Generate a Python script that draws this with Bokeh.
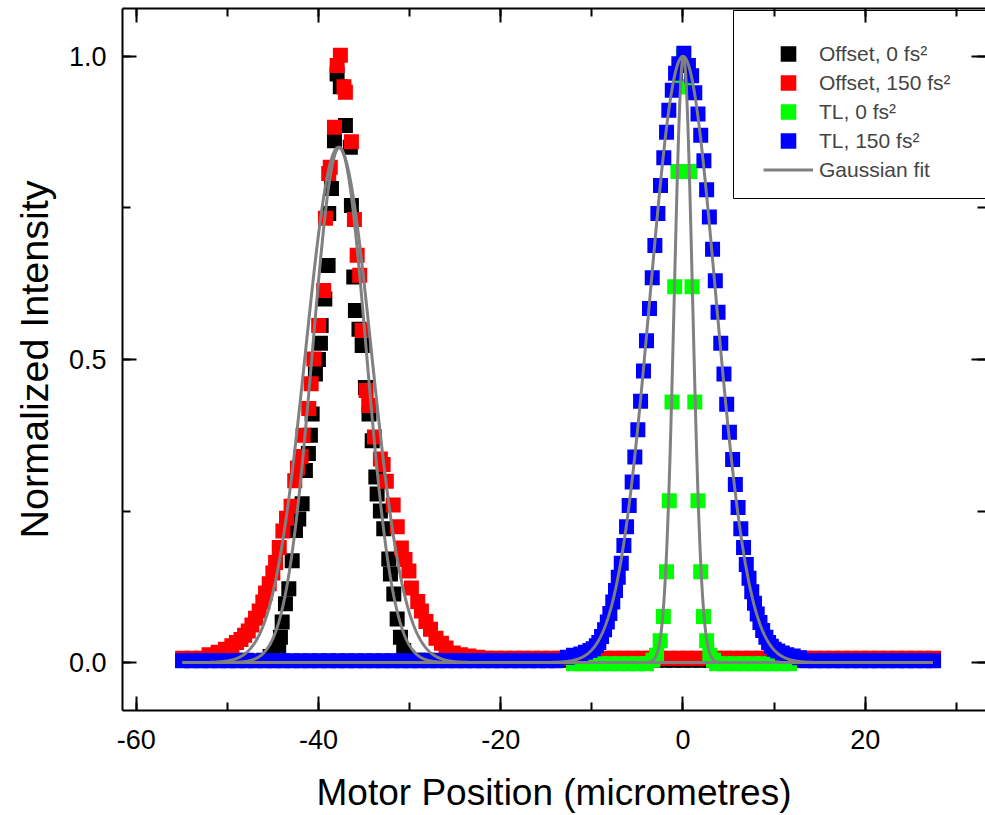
import numpy as np
from bokeh.plotting import figure
from bokeh.models import (Range1d, LinearAxis, SingleIntervalTicker, NumeralTickFormatter,
                          CustomJSTickFormatter, Legend, LegendItem, BoxAnnotation)
from bokeh.embed import file_html
from bokeh.resources import INLINE

# ---- measured scans -------------------------------------------------------
# motor positions (micrometres) where each trace sits flat on its baseline
wing_step = 1.0

# Offset, 0 fs^2
off0_x = [-46.0, -45.3, -44.7, -44.36, -44.17, -43.98, -43.62, -43.25, -42.88, -42.52,
          -42.16, -41.79, -41.43, -41.1, -40.88, -40.69, -40.33, -40.0, -39.78, -39.7,
          -39.3, -38.94, -38.87, -38.57, -38.24, -37.95, -37.6, -37.04, -36.5, -36.38,
          -36.12, -35.94, -35.55, -35.2, -34.84, -34.45, -34.1, -33.7, -33.56, -33.2,
          -32.83, -32.28, -32.1, -31.73, -31.36, -31.0, -30.64, -30.2, -29.6]
off0_y = [0.004, 0.010, 0.016, 0.023, 0.042, 0.067, 0.097, 0.122, 0.168, 0.218,
          0.237, 0.262, 0.317, 0.345, 0.375, 0.41, 0.476, 0.50, 0.527, 0.556,
          0.60, 0.655, 0.741, 0.782, 0.861, 0.971, 0.95, 0.886, 0.85, 0.754,
          0.636, 0.581, 0.55, 0.523, 0.454, 0.41, 0.366, 0.306, 0.278, 0.25,
          0.221, 0.171, 0.146, 0.113, 0.072, 0.042, 0.020, 0.008, 0.004]
off0_wings = [(-54.9, -47.0), (-29.0, 27.5)]
off0_level = 0.004

# Offset, 150 fs^2
off150_x = [-52.0, -51.0, -50.2, -49.5, -49.0, -48.5, -48.1, -47.7, -47.3, -46.9,
            -46.5, -46.1, -45.8, -45.4, -45.0, -44.7, -44.3, -43.9, -43.5, -43.0,
            -42.6, -42.3, -41.9, -41.68, -41.06, -40.8, -40.5, -39.97, -39.42, -39.23,
            -38.87, -38.7, -38.24, -37.95, -37.59, -37.2, -37.04, -36.38, -36.05, -35.75,
            -35.47, -35.2, -34.77, -34.48, -33.85, -33.2, -32.9, -32.55, -31.8, -31.35,
            -30.9, -30.5, -30.07, -29.8, -29.1, -28.7, -28.2, -27.7, -27.1, -26.5,
            -26.0, -25.2, -24.4, -23.5, -22.5]
off150_y = [0.013, 0.017, 0.022, 0.028, 0.033, 0.038, 0.045, 0.052, 0.062, 0.073,
            0.085, 0.100, 0.115, 0.130, 0.148, 0.165, 0.190, 0.217, 0.238, 0.258,
            0.300, 0.321, 0.340, 0.375, 0.419, 0.460, 0.501, 0.556, 0.614, 0.733,
            0.807, 0.817, 0.883, 0.985, 1.002, 0.950, 0.941, 0.859, 0.731, 0.672,
            0.639, 0.548, 0.449, 0.424, 0.372, 0.336, 0.327, 0.299, 0.260, 0.224,
            0.189, 0.170, 0.151, 0.123, 0.101, 0.085, 0.068, 0.055, 0.040, 0.032,
            0.024, 0.016, 0.013, 0.011, 0.009]
off150_wings = [(-54.9, -52.9), (-21.5, 27.5)]
off150_level = 0.007

# TL, 0 fs^2
tl0_x = [-3.3, -2.9, -2.5, -2.15, -1.8, -1.5, -1.2, -0.9, -0.55, -0.25, 0.05,
         0.4, 0.75, 1.0, 1.3, 1.65, 1.95, 2.25, 2.6, 2.95, 3.35]
tl0_y = [0.004, 0.012, 0.036, 0.076, 0.150, 0.267, 0.430, 0.620, 0.810, 0.950, 1.000,
         0.950, 0.810, 0.620, 0.430, 0.267, 0.150, 0.076, 0.036, 0.012, 0.004]
tl0_wings = [(-12.0, -3.7), (3.7, 12.2)]
tl0_level = -0.002

# TL, 150 fs^2
tl150_x = [-12.7, -12.0, -11.2, -10.7, -10.2, -9.85, -9.5, -9.23, -8.93, -8.6,
           -8.3, -8.02, -7.7, -7.4, -7.1, -6.77, -6.48, -6.19, -5.9, -5.57,
           -5.28, -4.95, -4.65, -4.33, -4.0, -3.67, -3.37, -3.08, -2.75, -2.46,
           -2.1, -1.8, -1.55, -1.17, -0.81, -0.45, 0.1, 0.6, 0.95, 1.3,
           1.65, 1.95, 2.3, 2.6, 2.9, 3.25, 3.55, 3.85, 4.15, 4.5,
           4.8, 5.1, 5.45, 5.75, 6.05, 6.35, 6.65, 6.95, 7.25, 7.55,
           7.85, 8.15, 8.45, 8.75, 9.1, 9.4, 9.7, 10.0, 10.4, 10.9,
           11.4, 12.1, 12.8]
tl150_y = [0.009, 0.012, 0.014, 0.017, 0.020, 0.023, 0.028, 0.033, 0.043, 0.054,
           0.067, 0.081, 0.100, 0.119, 0.141, 0.164, 0.193, 0.224, 0.259, 0.298,
           0.339, 0.384, 0.431, 0.481, 0.531, 0.584, 0.635, 0.688, 0.741, 0.787,
           0.833, 0.875, 0.911, 0.944, 0.972, 0.988, 1.005, 0.985, 0.968, 0.940,
           0.905, 0.870, 0.828, 0.780, 0.735, 0.682, 0.630, 0.578, 0.527, 0.476,
           0.426, 0.380, 0.335, 0.294, 0.256, 0.221, 0.190, 0.162, 0.139, 0.117,
           0.098, 0.080, 0.066, 0.053, 0.042, 0.033, 0.027, 0.022, 0.019, 0.016,
           0.013, 0.011, 0.008]
tl150_wings = [(-54.9, -13.4), (13.5, 27.5)]
tl150_level = 0.003

# Gaussian fits: centre, height, sigma (same order as the legend)
fit_centre = [-37.7, -37.8, 0.05, 0.0]
fit_height = [0.85, 0.85, 1.0, 1.0]
fit_sigma = [2.95, 3.6, 1.0, 3.6]
fit_span = (-54.9, 27.4)

labels = ["Offset, 0 fs\u00b2", "Offset, 150 fs\u00b2", "TL, 0 fs\u00b2", "TL, 150 fs\u00b2"]
colors = ["#000000", "#ff0000", "#00ff00", "#0000ff"]


def full_trace(x, y, wings, level):
    wx = np.concatenate([np.arange(a, b + 1e-9, wing_step) for a, b in wings])
    xs = np.concatenate([wx, np.asarray(x, float)])
    ys = np.concatenate([np.full(len(wx), level), np.asarray(y, float)])
    order = np.argsort(xs)
    return xs[order], ys[order]


traces = [
    full_trace(off0_x, off0_y, off0_wings, off0_level),
    full_trace(off150_x, off150_y, off150_wings, off150_level),
    full_trace(tl0_x, tl0_y, tl0_wings, tl0_level),
    full_trace(tl150_x, tl150_y, tl150_wings, tl150_level),
]

FONT = "Liberation Sans"

p = figure(width=985, height=815, output_backend="svg", toolbar_location=None,
           x_range=Range1d(-61.5, 33.2), y_range=Range1d(-0.079, 1.079),
           min_border_left=122, min_border_right=0, min_border_top=8, min_border_bottom=105,
           background_fill_color="white", border_fill_color="white")
p.outline_line_color = None
p.xgrid.visible = False
p.ygrid.visible = False

# squares: 11 px body plus a 4 px stroke of the same colour -> 15 px marks
renderers = []
for (xs, ys), c in zip(traces, colors):
    r = p.scatter(xs, ys, marker="square", size=11, fill_color=c, line_color=c,
                  line_width=4, line_join="miter")
    renderers.append(r)

fit_x = np.linspace(fit_span[0], fit_span[1], 2500)
fit_r = None
for xc, a, s in zip(fit_centre, fit_height, fit_sigma):
    fy = a * np.exp(-((fit_x - xc) ** 2) / (2 * s * s))
    fit_r = p.line(fit_x, fy, line_color="#808080", line_width=3)

# ---- axes ---------------------------------------------------------------
xt = SingleIntervalTicker(interval=20, num_minor_ticks=2)
yt = SingleIntervalTicker(interval=0.5, num_minor_ticks=2)
blank = CustomJSTickFormatter(code="return ''")


def style_axis(ax):
    ax.axis_line_width = 2
    ax.axis_line_color = "black"
    ax.major_tick_in = 14
    ax.major_tick_out = 0
    ax.minor_tick_in = 8
    ax.minor_tick_out = 0
    ax.major_tick_line_width = 2
    ax.minor_tick_line_width = 2
    ax.major_tick_line_color = "black"
    ax.minor_tick_line_color = "black"
    ax.major_label_text_font = FONT
    ax.major_label_text_font_size = "27px"
    ax.major_label_text_color = "black"
    ax.axis_label_text_font = FONT
    ax.axis_label_text_font_size = "37px"
    ax.axis_label_text_font_style = "normal"
    ax.axis_label_text_color = "black"


xa = p.xaxis[0]
xa.ticker = xt
xa.formatter = NumeralTickFormatter(format="0")
xa.axis_label = "Motor Position (micrometres)"
style_axis(xa)
xa.major_label_standoff = 19
xa.axis_label_standoff = 20

ya = p.yaxis[0]
ya.ticker = yt
ya.formatter = NumeralTickFormatter(format="0.0")
ya.axis_label = "Normalized Intensity"
style_axis(ya)
ya.axis_label_text_font_size = "39.5px"
ya.major_label_standoff = 16
ya.axis_label_standoff = 10

top = LinearAxis(ticker=xt, formatter=blank)
style_axis(top)
top.major_label_standoff = 0
p.add_layout(top, "above")

right = LinearAxis(ticker=yt, formatter=blank)
style_axis(right)
right.major_label_standoff = 0
right.axis_line_color = None
p.add_layout(right, "right")

# ---- legend -------------------------------------------------------------
items = [LegendItem(label=l, renderers=[r]) for l, r in zip(labels, renderers)]
items.append(LegendItem(label="Gaussian fit", renderers=[fit_r]))
legend = Legend(items=items, location=(641, 526), glyph_width=50, glyph_height=29,
                spacing=0, padding=15, label_standoff=6,
                label_text_font=FONT, label_text_font_size="21px",
                border_line_color=None, background_fill_alpha=0)
p.add_layout(legend)

legend_frame = BoxAnnotation(left=611, right=900, bottom=512, top=700,
                             left_units="screen", right_units="screen",
                             bottom_units="screen", top_units="screen",
                             fill_color=None, line_color="black", line_width=1, line_alpha=1)
p.add_layout(legend_frame)

open("out.html", "w").write(file_html(p, INLINE))
